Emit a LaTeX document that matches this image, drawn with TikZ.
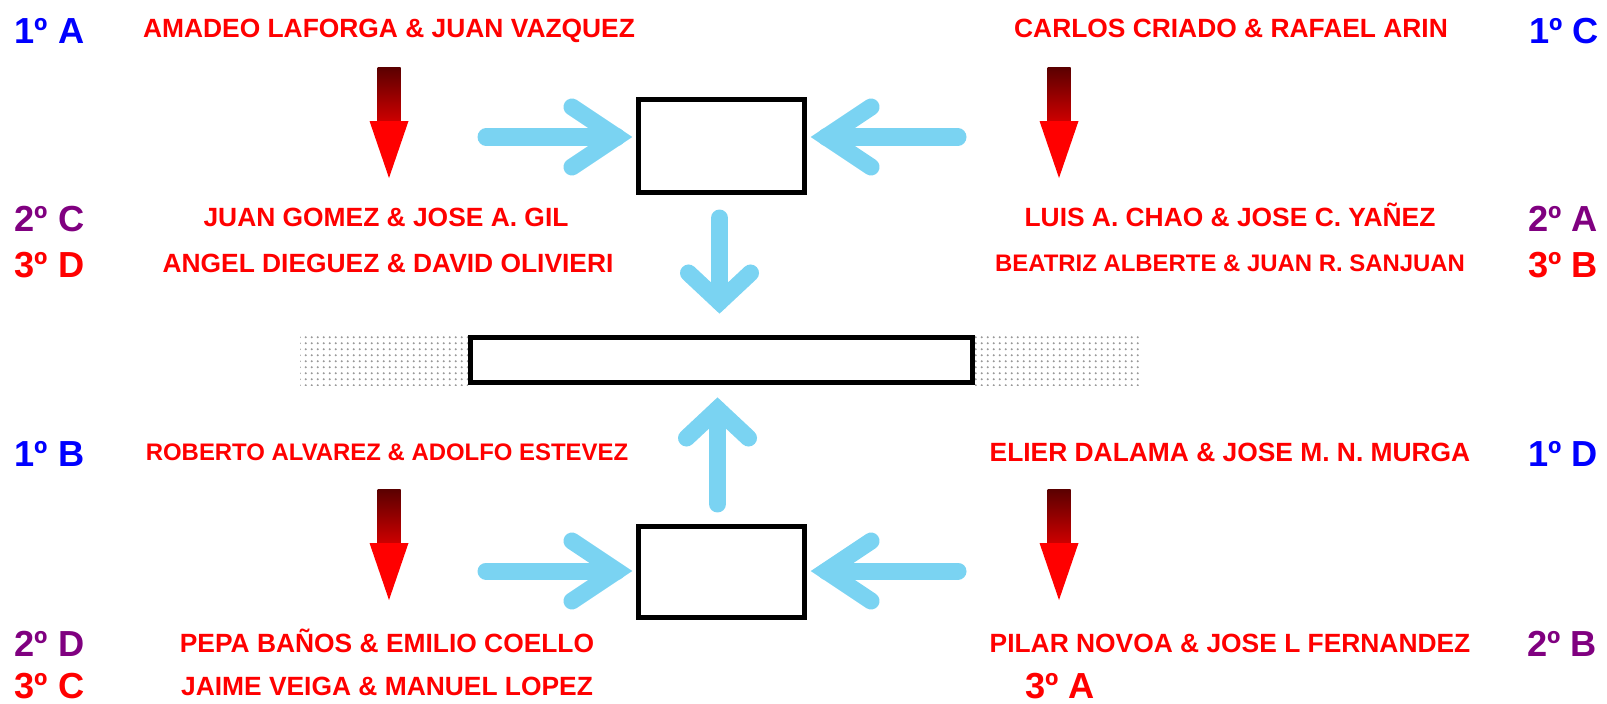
\documentclass[tikz,border=0pt]{standalone}
\usepackage{fontspec}
\setmainfont{Liberation Sans}
\usetikzlibrary{calc}
\usetikzlibrary{patterns.meta}
\definecolor{group-blue}{RGB}{0,0,255}
\definecolor{group-purple}{RGB}{128,0,128}
\definecolor{flow-blue}{RGB}{122,211,242}
\definecolor{arrow-dark}{RGB}{90,0,0}
\definecolor{arrow-mid}{RGB}{205,0,0}

\tikzdeclarepattern{
  name=band dots,
  type=uncolored,
  bounding box={(0,0) and (1.7pt,1.7pt)},
  tile size={(1.7pt,1.7pt)},
  code={\pgfpathcircle{\pgfqpoint{0.5pt}{0.5pt}}{0.3pt}\pgfusepath{fill}}
}

\begin{document}
\begin{tikzpicture}[x=0.01cm, y=-0.01cm,
num/.style={font=\bfseries\fontsize{10.3}{12}\selectfont, text=#1, inner sep=0pt, anchor=base},
team/.style={font=\bfseries\fontsize{7.5}{9}\selectfont, text=red, inner sep=0pt, anchor=base},
teamsmall/.style={team, font=\bfseries\fontsize{6.8}{8}\selectfont},
box/.style={draw, line width=0.05cm, inner sep=0pt, fill=white},
flow/.style={draw=flow-blue, line width=0.17cm, line cap=round, line join=miter}]
\useasboundingbox (0,0) rectangle (1607,703);

% group places
\node [num=group-blue] (a1) at (49.5,44) {1º A};
\node [num=group-blue] (c1) at (1564,44) {1º C};
\node [num=group-purple] (c2) at (49.5,231) {2º C};
\node [num=group-purple] (a2) at (1563,231) {2º A};
\node [num=red] (d3) at (49.5,277) {3º D};
\node [num=red] (b3) at (1563,277) {3º B};
\node [num=group-blue] (b1) at (49.5,466) {1º B};
\node [num=group-blue] (d1) at (1563,466) {1º D};
\node [num=group-purple] (d2) at (49.5,656) {2º D};
\node [num=group-purple] (b2) at (1562,656) {2º B};
\node [num=red] (c3) at (49.5,698) {3º C};
\node [num=red] (a3) at (1060,698) {3º A};

% teams
\node [team] (team-a1) at (389,37.4) {AMADEO LAFORGA \& JUAN VAZQUEZ};
\node [team] (team-c1) at (1231,37.4) {CARLOS CRIADO \& RAFAEL ARIN};
\node [team] (team-c2) at (386,226.4) {JUAN GOMEZ \& JOSE A. GIL};
\node [team] (team-a2) at (1230,226.4) {LUIS A. CHAO \& JOSE C. YAÑEZ};
\node [team] (team-d3) at (388,272.4) {ANGEL DIEGUEZ \& DAVID OLIVIERI};
\node [teamsmall] (team-b3) at (1230,271.6) {BEATRIZ ALBERTE \& JUAN R. SANJUAN};
\node [teamsmall] (team-b1) at (387,460.6) {ROBERTO ALVAREZ \& ADOLFO ESTEVEZ};
\node [team] (team-d1) at (1230,461.4) {ELIER DALAMA \& JOSE M. N. MURGA};
\node [team] (team-d2) at (387,652.4) {PEPA BAÑOS \& EMILIO COELLO};
\node [team] (team-b2) at (1230,652.4) {PILAR NOVOA \& JOSE L FERNANDEZ};
\node [team] (team-c3) at (387,695) {JAIME VEIGA \& MANUEL LOPEZ};

% red arrows
\foreach \x/\y in {389/67, 1059/67, 389/489, 1059/489} {
  \shade[top color=arrow-dark, bottom color=arrow-mid] (\x-11.5,\y) rectangle (\x+11.5,\y+54);
  \fill[red] (\x-19.5,\y+54) -- (\x+19.5,\y+54) -- (\x,\y+111) -- cycle;
}

% dotted bands
\fill[pattern=band dots, pattern color=gray!80] (300,335) rectangle (468,385);
\fill[pattern=band dots, pattern color=gray!80] (975,335) rectangle (1141,385);

% boxes
\node [box, minimum width=1.66cm, minimum height=0.93cm] (semi1) at (721.5,146) {};
\node [box, minimum width=5.02cm, minimum height=0.45cm] (final) at (721.5,360) {};
\node [box, minimum width=1.66cm, minimum height=0.91cm] (semi2) at (721.5,572) {};

% blue arrows
\coordinate (in-tl) at (486,137);
\coordinate (in-tr) at (958,137);
\coordinate (in-bl) at (486,571);
\coordinate (in-br) at (958,571);
\coordinate (tip-tl) at ($(semi1.west)+(-19,-9)$);
\coordinate (tip-tr) at ($(semi1.east)+(19,-9)$);
\coordinate (tip-bl) at ($(semi2.west)+(-19,-1)$);
\coordinate (tip-br) at ($(semi2.east)+(19,-1)$);
\coordinate (tip-dn) at ($(final.north)+(-2,-33)$);
\coordinate (tip-up) at ($(final.south)+(-4,24)$);

\draw[flow] (in-tl) -- (tip-tl);
\draw[flow] ($(tip-tl)+(-45,-30)$) -- (tip-tl) -- ($(tip-tl)+(-45,30)$);
\draw[flow] (in-tr) -- (tip-tr);
\draw[flow] ($(tip-tr)+(45,-30)$) -- (tip-tr) -- ($(tip-tr)+(45,30)$);
\draw[flow] (in-bl) -- (tip-bl);
\draw[flow] ($(tip-bl)+(-45,-30)$) -- (tip-bl) -- ($(tip-bl)+(-45,30)$);
\draw[flow] (in-br) -- (tip-br);
\draw[flow] ($(tip-br)+(45,-30)$) -- (tip-br) -- ($(tip-br)+(45,30)$);

\draw[flow] ($(semi1.south)+(-2,23)$) -- (tip-dn);
\draw[flow] ($(tip-dn)+(-31,-29)$) -- (tip-dn) -- ($(tip-dn)+(31,-29)$);
\draw[flow] ($(semi2.north)+(-4,-20)$) -- (tip-up);
\draw[flow] ($(tip-up)+(-31,29)$) -- (tip-up) -- ($(tip-up)+(31,29)$);

\end{tikzpicture}
\end{document}
